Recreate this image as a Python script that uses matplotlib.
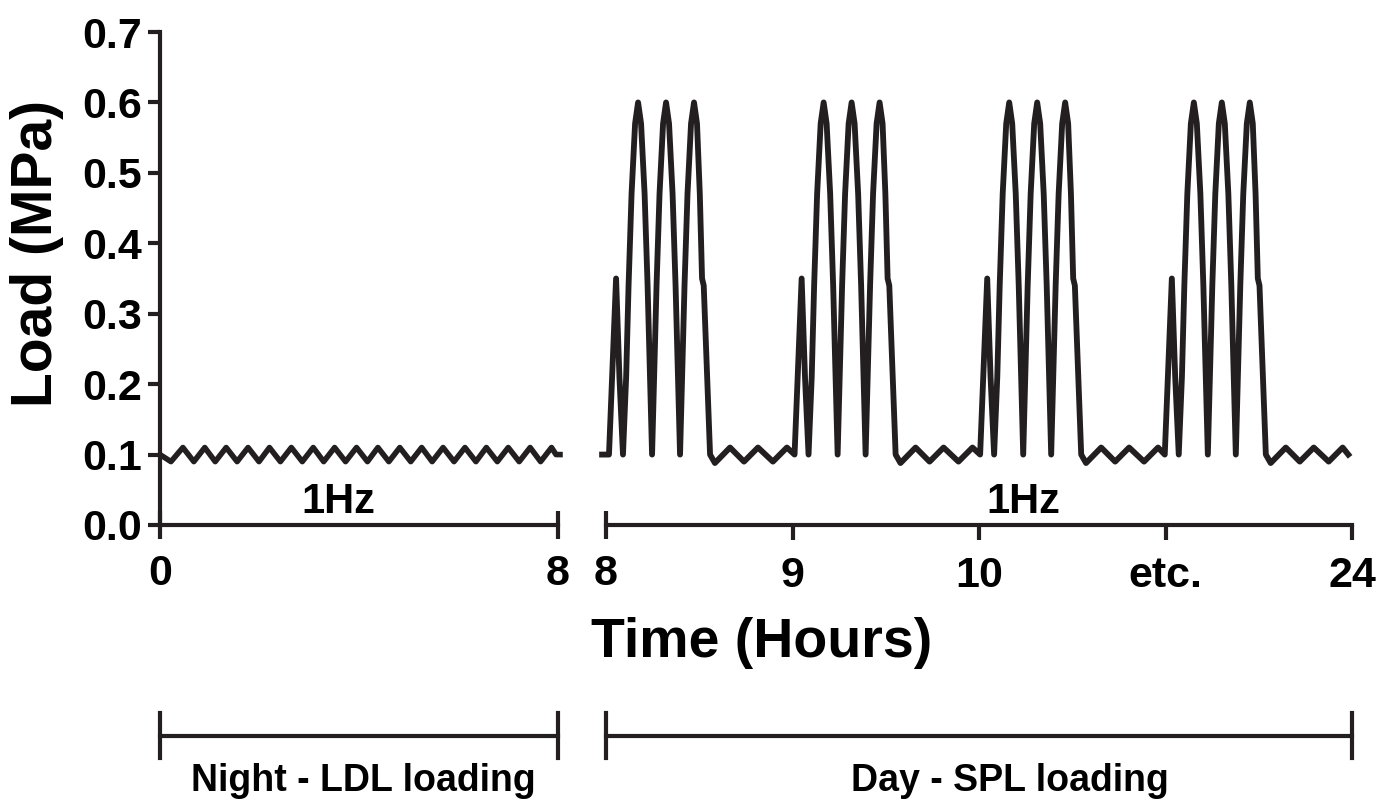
import matplotlib
matplotlib.use("Agg")
import matplotlib.pyplot as plt
from matplotlib.transforms import blended_transform_factory

plt.rcParams['font.family'] = ['Liberation Sans', 'DejaVu Sans']
plt.rcParams['font.weight'] = 'bold'

INK = '#231f20'

# night (0-8 h): small 1Hz load around 0.1 MPa, peaks/troughs
night_t = [0.00, 0.22, 0.46, 0.68, 0.90, 1.11, 1.33, 1.55, 1.77, 1.99, 2.20, 2.42,
           2.64, 2.86, 3.08, 3.29, 3.51, 3.73, 3.95, 4.17, 4.38, 4.60, 4.82, 5.04,
           5.26, 5.47, 5.69, 5.91, 6.13, 6.35, 6.56, 6.78, 7.00, 7.22, 7.44, 7.65,
           7.87, 7.96, 8.04]
night_load = [0.10, 0.09, 0.11, 0.09, 0.11, 0.09, 0.11, 0.09, 0.11, 0.09, 0.11, 0.09,
              0.11, 0.09, 0.11, 0.09, 0.11, 0.09, 0.11, 0.09, 0.11, 0.09, 0.11, 0.09,
              0.11, 0.09, 0.11, 0.09, 0.11, 0.09, 0.11, 0.09, 0.11, 0.09, 0.11, 0.09,
              0.11, 0.10, 0.10]

# day: one loading block (offset in hour-slots from block start, load in MPa)
# spike to 0.35, three 0.6 MPa peaks, then back to the small 0.1 MPa wave
block_offset = [0.016, 0.054, 0.072, 0.091,
                0.108, 0.121, 0.137, 0.156, 0.172, 0.188, 0.207, 0.223, 0.236, 0.247,
                0.258, 0.271, 0.287, 0.306, 0.322, 0.338, 0.357, 0.373, 0.386, 0.397,
                0.408, 0.421, 0.437, 0.456, 0.472, 0.488, 0.503, 0.515, 0.524,
                0.558, 0.584, 0.665, 0.740, 0.815, 0.895, 0.970]
block_load = [0.10, 0.35, 0.21, 0.10,
              0.21, 0.34, 0.47, 0.57, 0.60, 0.57, 0.47, 0.34, 0.21, 0.10,
              0.21, 0.34, 0.47, 0.57, 0.60, 0.57, 0.47, 0.34, 0.21, 0.10,
              0.21, 0.34, 0.47, 0.57, 0.60, 0.57, 0.47, 0.35, 0.34,
              0.10, 0.088, 0.11, 0.09, 0.11, 0.09, 0.11]
block_start = [0.0, 0.995, 1.99, 2.98]
day_lead = (-0.021, 0.10)
day_tail = (3.98, 0.10)

day_tick_pos = [1, 2, 3, 4]
day_tick_labels = ['9', '10', 'etc.', '24']

day_t = [day_lead[0]]
day_load = [day_lead[1]]
for s in block_start:
    day_t += [s + o for o in block_offset]
    day_load += block_load
day_t.append(day_tail[0])
day_load.append(day_tail[1])

fig = plt.figure(figsize=(13.93, 8), dpi=100)
ax1 = fig.add_axes([160/1393, 1-525/800, 398/1393, 493/800])
ax2 = fig.add_axes([606/1393, 1-525/800, 746/1393, 493/800])

for ax in (ax1, ax2):
    ax.set_facecolor('none')
    for side in ('top', 'right'):
        ax.spines[side].set_visible(False)
    for sp in ax.spines.values():
        sp.set_linewidth(3)
        sp.set_color(INK)
    ax.set_ylim(0, 0.7)

ax1.plot(night_t, night_load, color=INK, lw=4.0, solid_joinstyle='round', clip_on=False)
ax2.plot(day_t, day_load, color=INK, lw=4.2, solid_joinstyle='round', clip_on=False)

TICK_FS = 31

# left panel axes
ax1.set_xlim(0, 8)
ax1.set_xticks([0, 8], labels=['0', '8'])
ax1.tick_params(axis='x', direction='inout', length=20, width=3, color=INK,
                labelsize=TICK_FS, pad=11)
ax1.set_yticks([0, 0.1, 0.2, 0.3, 0.4, 0.5, 0.6, 0.7])
ax1.set_yticklabels(['0.0', '0.1', '0.2', '0.3', '0.4', '0.5', '0.6', '0.7'])
ax1.tick_params(axis='y', direction='out', length=9, width=3, color=INK,
                labelsize=TICK_FS, pad=4)
ax1.set_ylabel('Load (MPa)', fontsize=41, fontweight='bold')
ax1.yaxis.set_label_coords(-0.241, 0.55)

# right panel axes
ax2.spines['left'].set_visible(False)
ax2.set_xlim(0, 4)
ax2.set_yticks([])
ax2.set_xticks(day_tick_pos, labels=day_tick_labels)
ax2.set_xticks([0], labels=['8'], minor=True)
ax2.tick_params(axis='x', which='major', direction='out', length=11, width=3,
                color=INK, labelsize=TICK_FS, pad=11)
ax2.tick_params(axis='x', which='minor', direction='inout', length=20, width=3,
                color=INK, labelsize=TICK_FS, pad=11)

ax1.text(3.58, 0.017, '1Hz', fontsize=30, fontweight='bold', ha='center', va='baseline')
ax2.text(2.236, 0.017, '1Hz', fontsize=30, fontweight='bold', ha='center', va='baseline')

fig.text(762/1393, 1-657/800, 'Time (Hours)', fontsize=40, fontweight='bold',
         ha='center', va='baseline')

# night / day brackets under the chart
y_line = 1 - 736/800
y_lo, y_hi = 1 - 758/800, 1 - 713/800
for ax, x0, x1 in ((ax1, 0, 8), (ax2, 0, 4)):
    tr = blended_transform_factory(ax.transData, fig.transFigure)
    ax.plot([x0, x1], [y_line, y_line], transform=tr, color=INK, lw=3, clip_on=False)
    ax.plot([x0, x0], [y_lo, y_hi], transform=tr, color=INK, lw=3, clip_on=False)
    ax.plot([x1, x1], [y_lo, y_hi], transform=tr, color=INK, lw=3, clip_on=False)

fig.text(363/1393, 1-791/800, 'Night - LDL loading', fontsize=27, fontweight='bold',
         ha='center', va='baseline')
fig.text(1010/1393, 1-791/800, 'Day - SPL loading', fontsize=27, fontweight='bold',
         ha='center', va='baseline')

fig.savefig('out.png', dpi=100)
